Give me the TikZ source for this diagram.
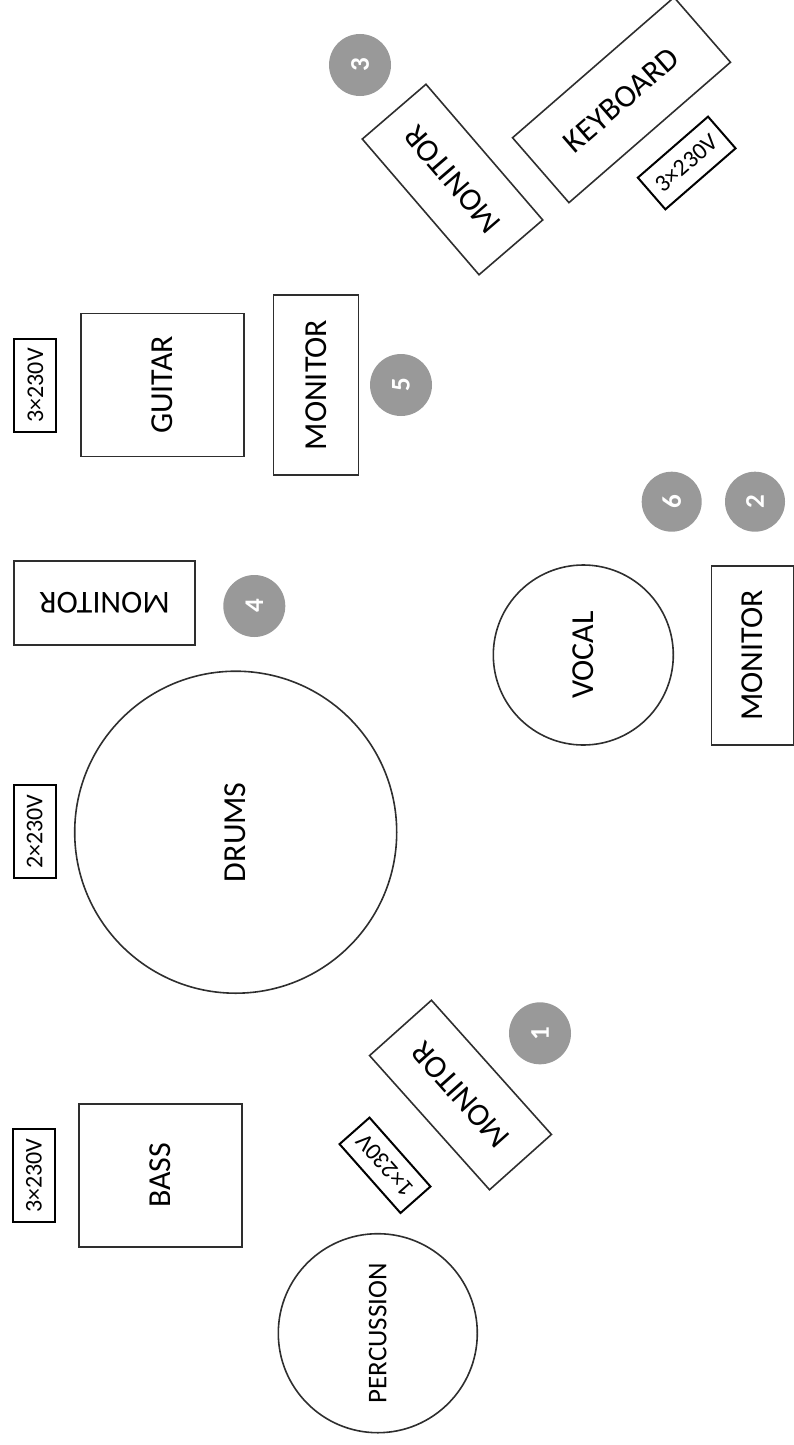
\documentclass[tikz,border=0pt]{standalone}
\usepackage{fontspec}
\setmainfont{Carlito}
\definecolor{ink}{HTML}{2E2E2E}
\definecolor{badgegray}{HTML}{999999}
\begin{document}
\begin{tikzpicture}[x=1pt,y=-1pt,
  box/.style={draw=ink, line width=1.6pt, inner sep=0pt, rectangle,
    font=\fontsize{32}{36}\selectfont},
  ring/.style={draw=ink, line width=1.6pt, inner sep=0pt, circle,
    font=\fontsize{32}{36}\selectfont},
  power/.style={draw=black, line width=2pt, inner sep=0pt, rectangle,
    minimum width=93pt, minimum height=42pt,
    font=\fontsize{24}{27}\selectfont},
  badge/.style={circle, fill=badgegray, draw=none, inner sep=0pt,
    minimum size=62pt, text=white, rotate=90,
    font=\fontsize{27}{30}\selectfont\bfseries}]
\useasboundingbox (0,0) rectangle (794,1445);

% upper right: keyboard area
\node[badge] (b3) at (360,65) {3};
\node[box, minimum width=179pt, minimum height=84pt, rotate=130.7] (mon3) at (452.5,179.5) {MONITOR};
\node[box, minimum width=214pt, minimum height=86pt, rotate=41] (keys) at (621.5,100) {KEYBOARD};
\node[power, rotate=41] (pkeys) at (686.7,163) {3×230V};

% guitar
\node[power, rotate=90] (pguit) at (35.3,385.5) {3×230V};
\node[box, minimum width=143pt, minimum height=163pt, rotate=90] (guit) at (162.7,385) {GUITAR};
\node[box, minimum width=180pt, minimum height=85pt, rotate=90] (mon5) at (315.8,385) {MONITOR};
\node[badge] (b5) at (401,385) {5};

% vocal
\node[badge, minimum size=60pt] (b6) at (671.7,501.7) {6};
\node[badge, minimum size=60pt] (b2) at (755,501.7) {2};
\node[ring, minimum size=180pt, rotate=90] (vocal) at (583.3,655) {VOCAL};
\node[box, minimum width=179pt, minimum height=82pt, rotate=90] (mon2) at (752.5,655.5) {MONITOR};

% drums
\node[box, minimum width=181pt, minimum height=84pt, rotate=180] (mon4) at (104.5,602.8) {MONITOR};
\node[badge] (b4) at (254.3,606) {4};
\node[ring, minimum size=322pt, rotate=90] (drums) at (235.7,832.2) {DRUMS};
\node[power, rotate=90] (pdrums) at (34.7,831.7) {2×230V};

% monitor 1
\node[box, minimum width=180pt, minimum height=83pt, rotate=131.8] (mon1) at (460.5,1095) {MONITOR};
\node[badge] (b1) at (540,1033.3) {1};
\node[power, minimum width=92pt, minimum height=40pt, rotate=131.5] (pmon1) at (385,1165.3) {1×230V};

% bass
\node[power, rotate=90] (pbass) at (33.8,1175.5) {3×230V};
\node[box, minimum width=143pt, minimum height=163pt, rotate=90] (bass) at (160.7,1175.3) {BASS};

% percussion
\node[ring, minimum size=199pt, rotate=90, font=\fontsize{27}{30}\selectfont] (perc) at (377.8,1333.2) {PERCUSSION};
\end{tikzpicture}
\end{document}
